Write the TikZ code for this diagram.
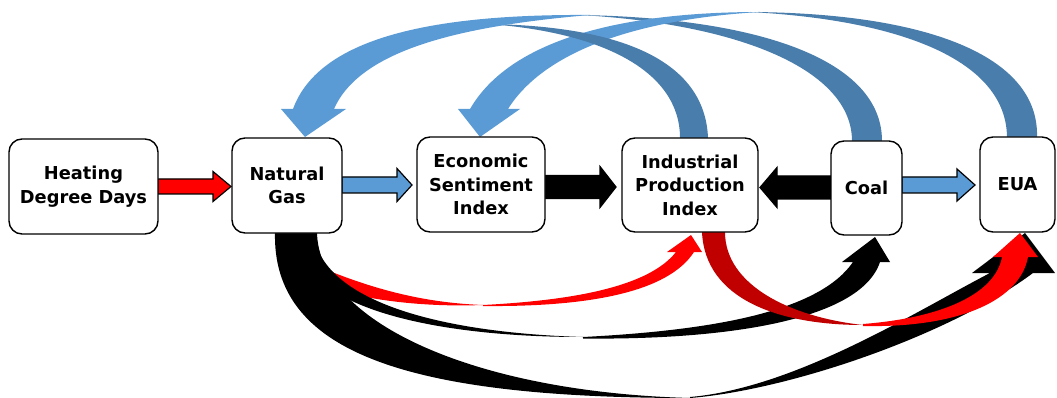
\documentclass[tikz,border=0pt]{standalone}
\usepackage{fontspec}
\setmainfont{DejaVu Sans}
\usetikzlibrary{calc}
\pgfdeclarelayer{bg}
\pgfsetlayers{bg,main}
\definecolor{lblue}{HTML}{5B9BD5}
\definecolor{dblue}{HTML}{497DAC}
\definecolor{dred}{HTML}{C00000}

% straight block arrow: #1 start, #2 tip, #3 shaft half-width, #4 head half-width,
% #5 signed head length, #6 style
\newcommand{\blockarr}[6]{%
  \draw[#6] let \p1=(#1), \p2=(#2) in
    ({\x1},{\y1+#3}) -- ({\x2-(#5)},{\y1+#3}) -- ({\x2-(#5)},{\y1+#4}) -- ({\x2},{\y1})
    -- ({\x2-(#5)},{\y1-#4}) -- ({\x2-(#5)},{\y1-#3}) -- ({\x1},{\y1-#3}) -- cycle;}

\begin{document}
\begin{tikzpicture}[x=1pt,y=-1pt,
  box/.style={draw=black, line width=1.4pt, rounded corners=13pt, fill=white,
    align=center, inner sep=0pt, outer sep=0pt,
    font={\bfseries\fontsize{17.8}{23.5}\selectfont}},
  barrow/.style={draw=black, line width=1.2pt, line join=miter}]
\useasboundingbox (0,0) rectangle (1057,398);

% boxes
\node[box, minimum width=149pt, minimum height=95pt] (hdd)  at (83.5,186.5) {Heating\\Degree Days};
\node[box, minimum width=110pt, minimum height=95pt] (ng)   at (287,185.5)  {Natural\\Gas};
\node[box, minimum width=128pt, minimum height=95pt] (esi)  at (481,184.5)  {Economic\\Sentiment\\Index};
\node[box, minimum width=136pt, minimum height=94pt] (ipi)  at (690,185)    {Industrial\\Production\\Index};
\node[box, minimum width=71pt,  minimum height=94pt] (coal) at (866.5,188)  {Coal};
\node[box, minimum width=75pt,  minimum height=95pt] (eua)  at (1017.5,184.5){EUA};

\begin{pgfonlayer}{bg}
% straight links between neighbours
\blockarr{hdd.east}{$(ng.west)+(-1,0)$}{7.5pt}{15pt}{18pt}{barrow, fill=red}
\blockarr{$(ng.east)+(0,-0.5)$}{$(esi.west)+(-5,0)$}{8pt}{16.5pt}{15pt}{barrow, fill=lblue}
\blockarr{$(esi.east)+(0,2.5)$}{$(ipi.west)+(-6,0)$}{11.5pt}{20.5pt}{16pt}{barrow, fill=black}
\blockarr{$(coal.west)+(0,-0.5)$}{$(ipi.east)+(2,0)$}{11.5pt}{20pt}{-17pt}{barrow, fill=black}
\blockarr{$(coal.east)+(0,-3)$}{$(eua.west)+(-5,0)$}{8pt}{16pt}{18pt}{barrow, fill=lblue}

% upper ribbons (Coal -> Natural Gas, IPI -> Natural Gas, EUA -> ESI)
\fill[dblue] (882,141) .. controls (882,60) and (760,18) .. (580,15)
  .. controls (740,24) and (852,70) .. (852,141) -- cycle;
\fill[lblue] (760,12) .. controls (640,19) and (545,50) .. (508,109)
  -- (520,109) -- (480,137) -- (458,109) -- (470,109)
  .. controls (510,40) and (620,12) .. (760,12) -- cycle;
\fill[dblue] (708,138) .. controls (705,60) and (620,26) .. (488,24)
  .. controls (600,32) and (680,70) .. (680,138) -- cycle;
\fill[lblue] (590,15) .. controls (460,26) and (360,50) .. (334,109)
  -- (346,109) -- (305,137) -- (281,109) -- (293,109)
  .. controls (320,35) and (440,14) .. (590,15) -- cycle;
\fill[dblue] (1037,138) .. controls (1040,55) and (925,13) .. (750,12)
  .. controls (900,20) and (1007,60) .. (1007,138) -- cycle;

% lower ribbons
% Natural Gas -> IPI, rear part
\fill[red] (322,268) .. controls (380,292) and (430,303) .. (483,305)
  .. controls (430,307) and (370,302) .. (318,285) -- cycle;
% Natural Gas -> EUA, rear part
\fill[black] (275,232) .. controls (272,350) and (400,398) .. (690,398)
  .. controls (470,392) and (318,320) .. (317,232) -- cycle;
% Natural Gas -> Coal
\fill[black] (318,250) .. controls (342,306) and (450,333) .. (583,337)
  .. controls (450,337) and (345,314) .. (312,272) -- cycle;
\fill[black] (583,337) .. controls (720,330) and (820,310) .. (853,262)
  -- (842,262) -- (875,237) -- (890,262) -- (880,262)
  .. controls (860,322) and (720,340) .. (583,338.5) -- cycle;
% IPI -> EUA, rear part
\fill[dred] (702,232) .. controls (705,300) and (780,325) .. (863,325)
  .. controls (790,317) and (725,285) .. (725,232) -- cycle;
% Natural Gas -> EUA, front part
\fill[black] (690,397) .. controls (795,388) and (915,312) .. (990,273)
  -- (972,273) -- (1025,233) -- (1055,273) -- (1033,273)
  .. controls (950,335) and (790,390) .. (690,398) -- cycle;
% IPI -> EUA, front part
\fill[red] (863,324) .. controls (940,318) and (995,295) .. (1002,257)
  -- (993,257) -- (1020,233) -- (1038,257) -- (1028,257)
  .. controls (1020,300) and (960,328) .. (863,326) -- cycle;
% Natural Gas -> IPI, front part
\fill[red] (483,305) .. controls (580,300) and (650,285) .. (676,252)
  -- (667,252) -- (691,235) -- (702,252) -- (694,252)
  .. controls (668,292) and (590,307) .. (483,306) -- cycle;
\end{pgfonlayer}
\end{tikzpicture}
\end{document}
